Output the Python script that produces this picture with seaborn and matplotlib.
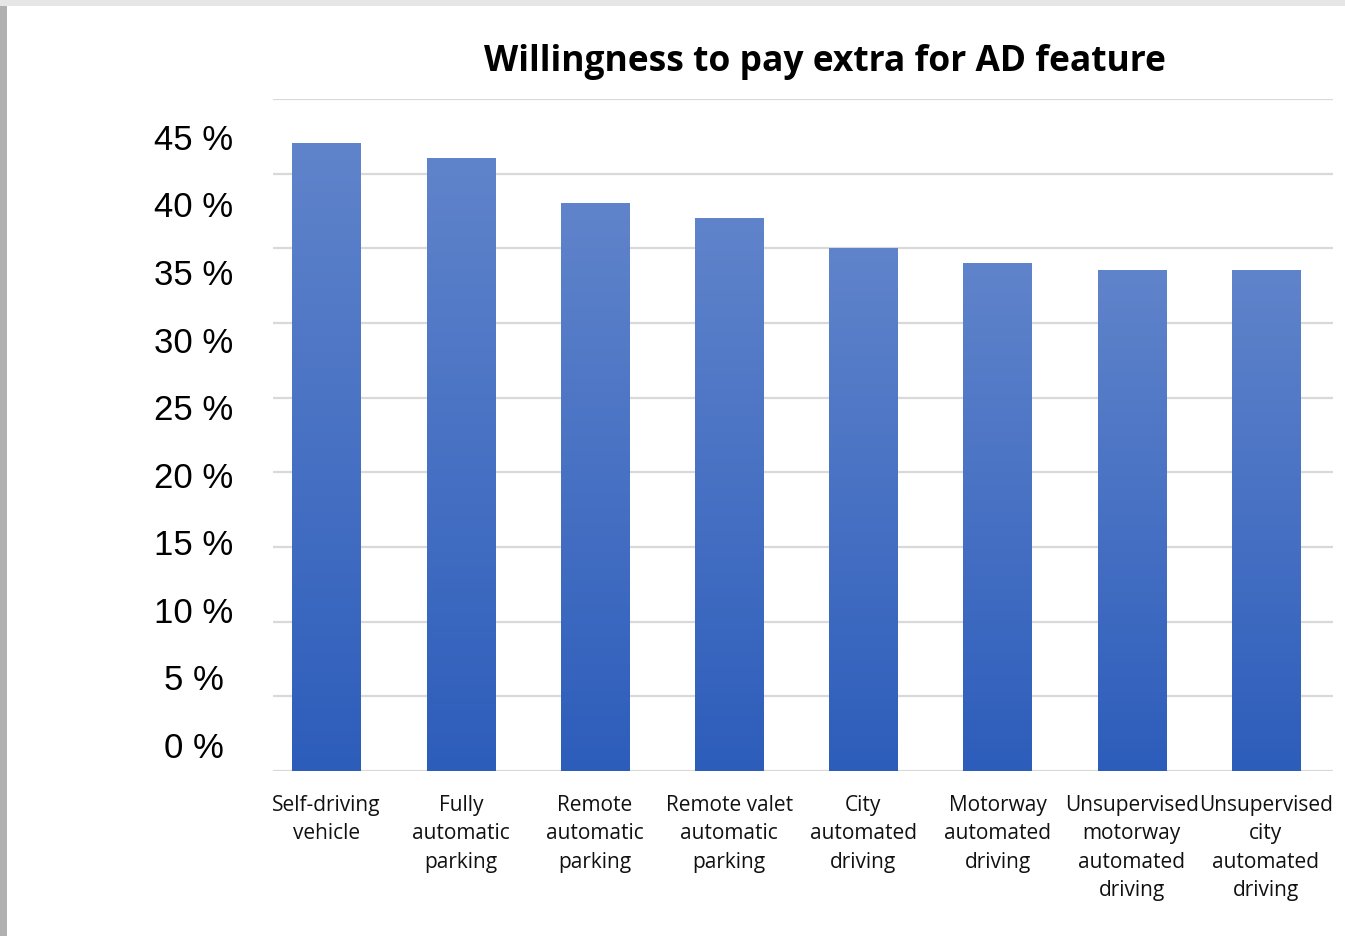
import numpy as np
import pandas as pd
import matplotlib
matplotlib.use("Agg")
import matplotlib.pyplot as plt
import seaborn as sns
from matplotlib.colors import LinearSegmentedColormap
from matplotlib.patches import Rectangle

categories = ["Self-driving\nvehicle", "Fully\nautomatic\nparking", "Remote\nautomatic\nparking",
              "Remote valet\nautomatic\nparking", "City\nautomated\ndriving", "Motorway\nautomated\ndriving",
              "Unsupervised\nmotorway\nautomated\ndriving", "Unsupervised\ncity\nautomated\ndriving"]
values = [42.0, 41.0, 38.0, 37.0, 35.0, 34.0, 33.5, 33.5]
tick_values = [0, 5, 10, 15, 20, 25, 30, 35, 40, 45]
tick_labels = [f"{v} %" for v in tick_values]
title = "Willingness to pay extra for AD feature"

sns.set_theme(style="white")
plt.rcParams['font.family'] = ['Open Sans', 'DejaVu Sans']

fig = plt.figure(figsize=(13.45, 9.36), dpi=100)
ax = fig.add_axes([273/1345, 1-771/936, (1333-273)/1345, (771-99)/936])

df = pd.DataFrame({"cat": categories, "val": values})
sns.barplot(data=df, x="cat", y="val", ax=ax, width=0.51, color="#4672c4", zorder=2)

cmap = LinearSegmentedColormap.from_list("g", ["#2d5dbb", "#6084cb"])
grad = np.linspace(0, 1, 256).reshape(-1, 1)
for p in ax.patches:
    x0, y0 = p.get_x(), p.get_y()
    w, h = p.get_width(), p.get_height()
    p.set_facecolor("none")
    p.set_edgecolor("none")
    ax.imshow(grad, extent=(x0, x0 + w, y0, y0 + h), origin="lower", cmap=cmap,
              aspect="auto", zorder=3, interpolation="bilinear")

ax.set_xlim(-0.40, 7.50)
ax.set_ylim(0, 45)

# gridlines at data values
ax.set_yticks(tick_values, minor=True)
ax.yaxis.grid(True, which="minor", color="#d9d9d9", linewidth=1.6, zorder=0)
ax.tick_params(axis="y", which="minor", length=0)
# labels (offset like the reference)
label_pos = [1.74 + v * 0.905 for v in tick_values]
ax.set_yticks(label_pos)
ax.set_yticklabels(tick_labels, family=["Liberation Sans", "DejaVu Sans"], fontsize=25, color="#000000")
for t in ax.get_yticklabels():
    t.set_horizontalalignment("center")
ax.tick_params(axis="y", which="major", length=0, pad=57)
ax.yaxis.grid(False, which="major")

ax.set_xticks(range(len(categories)))
ax.set_xticklabels(categories, fontsize=15, color="#111111", linespacing=1.47)
ax.tick_params(axis="x", length=0, pad=17)
ax.set_xlabel("")
ax.set_ylabel("")
for s in ax.spines.values():
    s.set_visible(False)

fig.text(825/1345, 1-62/936, title, ha="center", va="center", fontsize=25.5, fontweight="bold", color="#000000")

# border shading like the reference
fig.patches.append(Rectangle((0, 0), 7/1345, 1, transform=fig.transFigure, facecolor="#b0b0b0", edgecolor="none", zorder=-1))
fig.patches.append(Rectangle((0, 1-6/936), 1, 6/936, transform=fig.transFigure, facecolor="#e6e6e6", edgecolor="none", zorder=-1))

fig.savefig("out.png", dpi=100)
